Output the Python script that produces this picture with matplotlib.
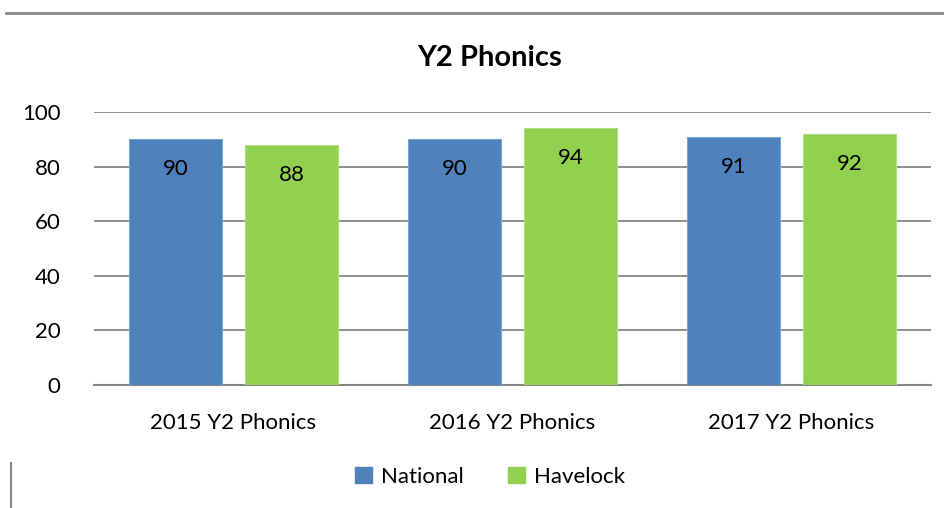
import numpy as np
import matplotlib.pyplot as plt
from matplotlib.lines import Line2D

plt.rcParams['font.family'] = ['Lato', 'DejaVu Sans']

categories = ["2015 Y2 Phonics", "2016 Y2 Phonics", "2017 Y2 Phonics"]
national = [90, 90, 91]
havelock = [88, 94, 92]
yticks = [0, 20, 40, 60, 80, 100]

blue = "#4F81BD"
green = "#92D050"
grid = "#868686"

fig = plt.figure(figsize=(9.44, 5.08), dpi=100)
ax = fig.add_axes([94 / 944, 1 - 385 / 508, (931 - 94) / 944, (385 - 112) / 508])

x = np.arange(len(categories))
w = 0.33
off = 0.208
b1 = ax.bar(x - off, national, w, color=blue, edgecolor="#7FA3D0", linewidth=0.8, zorder=3)
b2 = ax.bar(x + off, havelock, w, color=green, edgecolor="#B0DE80", linewidth=0.8, zorder=3)

for bars, vals in ((b1, national), (b2, havelock)):
    for r, v in zip(bars, vals):
        ax.text(r.get_x() + r.get_width() / 2, v - 11, str(v), ha="center", va="center",
                fontsize=16, color="black", zorder=4)

ax.set_xlim(-0.5, 2.5)
ax.set_ylim(0, 100)
ax.set_yticks(yticks)
ax.set_xticks(x)
ax.set_xticklabels(categories)
ax.yaxis.grid(True, color=grid, linewidth=1.3, zorder=0)
for s in ["top", "right", "left"]:
    ax.spines[s].set_visible(False)
ax.spines["bottom"].set_color(grid)
ax.spines["bottom"].set_linewidth(1.5)
ax.tick_params(axis="both", length=0, labelsize=16)
ax.tick_params(axis="y", pad=24)
ax.tick_params(axis="x", pad=20)

fig.text(490 / 944, 1 - 58 / 508, "Y2 Phonics", ha="center", va="center",
         fontsize=21, fontweight="bold")

handles = [plt.Rectangle((0, 0), 1, 1, color=blue), plt.Rectangle((0, 0), 1, 1, color=green)]
fig.legend(handles, ["National", "Havelock"], loc="center", bbox_to_anchor=(490 / 944, 1 - 477 / 508),
           ncol=2, frameon=False, fontsize=16, handlelength=0.75, handleheight=0.75,
           columnspacing=2.0, handletextpad=0.4)

# frame lines
fig.add_artist(Line2D([6 / 944, 1], [1 - 12.5 / 508] * 2, color=grid, linewidth=2))
fig.add_artist(Line2D([11 / 944] * 2, [1 - 463 / 508, 0], color=grid, linewidth=1.5))

fig.savefig("out.png", dpi=100)
